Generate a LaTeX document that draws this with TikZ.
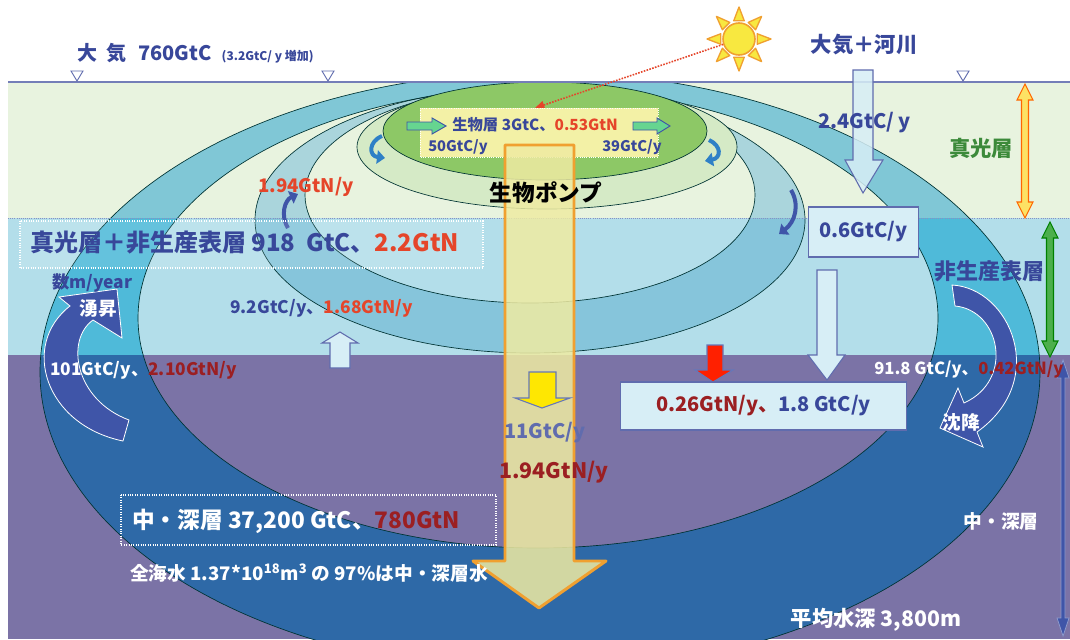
\documentclass[tikz,border=0pt]{standalone}
\usepackage{fontspec}
\setmainfont{Noto Sans CJK JP}
\usetikzlibrary{arrows.meta}

\definecolor{skygreen}{HTML}{E8F3DF}
\definecolor{surfblue}{HTML}{B3DEEA}
\definecolor{deepsea}{HTML}{7B73A6}
\definecolor{ringA}{HTML}{80C7D6}
\definecolor{ringB}{HTML}{4FBAD9}
\definecolor{ringC}{HTML}{2E69A7}
\definecolor{midA}{HTML}{AAD5DC}
\definecolor{midB}{HTML}{86C5DB}
\definecolor{paleleaf}{HTML}{D5EAC6}
\definecolor{leaf}{HTML}{8DC866}
\definecolor{bioyellow}{HTML}{F3F1A6}
\definecolor{inkblue}{HTML}{38479A}
\definecolor{inkred}{HTML}{E5452A}
\definecolor{inkdred}{HTML}{9B1F22}
\definecolor{inkgreen}{HTML}{3C8A3A}
\definecolor{flowblue}{HTML}{3F55A8}
\definecolor{curlblue}{HTML}{2E80C6}
\definecolor{pumpfill}{HTML}{EFEBA2}
\definecolor{pumpedge}{HTML}{F0A030}
\definecolor{sunyellow}{HTML}{F8E840}
\definecolor{boxblue}{HTML}{D7EEF6}

\newcommand\seaRingBig{(540,372) ellipse [x radius=500, y radius=300] (538,318) ellipse [x radius=400, y radius=230]}
\newcommand\seaRingMid{(530,220) ellipse [x radius=275, y radius=133] (530,195) ellipse [x radius=225, y radius=108]}
\newcommand\fsz[1]{\fontsize{#1}{#1}\selectfont}

\begin{document}
\begin{tikzpicture}[x=0.75pt,y=-0.75pt,
		every node/.style={inner sep=0pt,font=\bfseries},
		lbl/.style={text=inkblue},
		wlbl/.style={text=white},
		ringline/.style={draw=black!60!teal,line width=0.5pt},
		fatarrow/.style={draw=inkblue!80,line width=0.8pt,fill=boxblue},
		valbox/.style={draw=inkblue!80,line width=0.8pt,fill=boxblue},
		curl/.style={draw=flowblue,line width=3pt,-{Triangle[length=6pt,width=10pt]}},
		tri/.style={draw=inkblue!80,fill=white,line width=0.7pt}
		]
		\useasboundingbox (0,0) rectangle (1070,639);
		\fill[white] (0,0) rectangle (1070,639);
		
		% layers of the ocean
		\fill[skygreen] (8,82) rectangle (1070,218);
		\fill[surfblue] (8,218) rectangle (1070,355);
		\fill[deepsea] (8,355) rectangle (1070,639);
		
		% circulation rings, one colour per layer
		\begin{scope}
			\clip (8,82) rectangle (1070,218);
			\fill[ringA,even odd rule] \seaRingBig;
			\fill[midA,even odd rule] \seaRingMid;
		\end{scope}
		\begin{scope}
			\clip (8,218) rectangle (1070,355);
			\fill[ringB,even odd rule] \seaRingBig;
			\fill[midB,even odd rule] \seaRingMid;
		\end{scope}
		\begin{scope}
			\clip (8,355) rectangle (1070,639);
			\fill[ringC,even odd rule] \seaRingBig;
		\end{scope}
		\begin{scope}
			\clip (8,82) rectangle (1070,639);
			\draw[ringline] \seaRingBig;
			\draw[ringline] \seaRingMid;
			\draw[ringline,fill=paleleaf] (547,147) ellipse [x radius=190, y radius=62];
			\draw[ringline,fill=leaf] (545,131) ellipse [x radius=162, y radius=49];
		\end{scope}
		
		\draw[densely dotted,draw=inkblue!60,line width=0.6pt] (8,218) -- (1070,218);
		\draw[inkblue!70,line width=0.8pt] (8,82) -- (1070,82);
		\foreach \tx in {77,328,963}
		\draw[tri] (\tx-6,71) -- (\tx+6,71) -- (\tx,81) -- cycle;
		
		% sun and light
		\node[circle,draw=pumpedge,fill=sunyellow,line width=1.2pt,minimum size=24pt] (sun) at (739,39) {};
		\coordinate (sunlight) at (535,108);
		\draw[inkred,densely dotted,line width=1.2pt,-{Triangle[length=7pt,width=6pt]}] (sun) -- (sunlight);
		\foreach \a in {0,45,...,315}
		\draw[draw=pumpedge,fill=sunyellow,line width=1pt,line join=round] ([shift={(\a-16:19)}]sun.center) -- ([shift={(\a:32)}]sun.center) -- ([shift={(\a+16:19)}]sun.center) -- cycle;
		
		% biological layer
		\draw[densely dotted,draw=white,fill=bioyellow,line width=0.7pt] (420,108) rectangle (658,157);
		\draw[draw=flowblue,fill=green!45!teal!60,line width=0.7pt] (407,122) -- (432,122) -- (432,118) -- (446,126) -- (432,134) -- (432,130) -- (407,130) -- cycle;
		\draw[draw=flowblue,fill=green!45!teal!60,line width=0.7pt] (633,122) -- (657,122) -- (657,118) -- (670,126) -- (657,134) -- (657,130) -- (633,130) -- cycle;
		\draw[curl,draw=curlblue] (382,136) .. controls (368,142) and (369,156) .. (385,158);
		\draw[curl,draw=curlblue] (709,140) .. controls (722,146) and (721,158) .. (705,161);
		\draw[curl] (288,228) .. controls (280,215) and (285,200) .. (298,194);
		\draw[curl] (791,190) .. controls (800,205) and (795,222) .. (779,234);
		
		% up- and down-welling
		\draw[draw=white,line width=0.6pt,fill=flowblue] (123,441) .. controls (45,425) and (20,345) .. (70,306) -- (59,297) -- (117,289) -- (122,338) -- (93,320) .. controls (65,340) and (75,400) .. (129,420) -- cycle;
		\draw[draw=white,line width=0.6pt,fill=flowblue] (952,285) .. controls (1010,288) and (1050,380) .. (977,432) -- (983,447) -- (940,428) -- (958,388) -- (964,403) .. controls (1015,380) and (1000,310) .. (955,306) -- cycle;
		
		% flux arrows
		\draw[fatarrow,fill opacity=0.85] (853,70) -- (873,70) -- (873,160) -- (883,160) -- (863,193) -- (845,160) -- (853,160) -- cycle;
		\draw[fatarrow] (817,270) -- (837,270) -- (837,355) -- (845,355) -- (827,380) -- (808,355) -- (817,355) -- cycle;
		\draw[fatarrow] (330,368) -- (350,368) -- (350,343) -- (358,343) -- (340,332) -- (322,343) -- (330,343) -- cycle;
		\draw[draw=flowblue!80,fill=red!75!orange,line width=0.8pt] (707,345) -- (723,345) -- (723,370) -- (733,370) -- (713,382) -- (695,370) -- (707,370) -- cycle;
		
		% layer depths
		\draw[draw=orange!80!red,fill=yellow!70!orange!60,line width=0.8pt] (1025,84) -- (1033,100) -- (1028.5,100) -- (1028.5,202) -- (1033,202) -- (1025,218) -- (1017,202) -- (1021.5,202) -- (1021.5,100) -- (1017,100) -- cycle;
		\draw[draw=green!50!black,fill=green!55!black!70,line width=0.8pt] (1050,222) -- (1058,238) -- (1053.5,238) -- (1053.5,341) -- (1058,341) -- (1050,357) -- (1042,341) -- (1046.5,341) -- (1046.5,238) -- (1042,238) -- cycle;
		\draw[draw=flowblue!60,fill=flowblue,line width=0.6pt] (1063,360) -- (1069,378) -- (1065,378) -- (1065,618) -- (1069,618) -- (1063,636) -- (1057,618) -- (1061,618) -- (1061,378) -- (1057,378) -- cycle;
		
		% stock boxes
		\draw[white,densely dotted,line width=0.8pt,fill=white,fill opacity=0.12] (20,221) rectangle (483,268);
		\draw[white,densely dotted,line width=0.8pt] (121,495) rectangle (496,545);
		\node[valbox,minimum width=83pt,minimum height=37.5pt] (exportbox) at (863.5,232) {\fsz{15}\textcolor{inkblue}{0.6GtC/y}};
		\node[valbox,minimum width=215pt,minimum height=36pt] (fluxbox) at (763.5,406) {\fsz{15}\textcolor{inkdred}{0.26GtN/y、}\textcolor{inkblue}{1.8 GtC/y}};
		
		% biological pump
		\draw[draw=pumpedge,line width=2.2pt,fill=pumpfill,fill opacity=0.85,line join=round] (505,145) -- (574,145) -- (574,561) -- (606,561) -- (539,608) -- (473,561) -- (505,561) -- cycle;
		\draw[draw=flowblue!80,fill=yellow!90!orange,line width=0.8pt] (529,372) -- (556,372) -- (556,398) -- (570,398) -- (542,408) -- (515,398) -- (529,398) -- cycle;
		
		\node[lbl,anchor=west] (atmos) at (77,53) {\fsz{15}大\hspace{0.45em}気\hspace{0.6em}760GtC\hspace{0.5em}{\fsz{9}(3.2GtC/ y 増加)}};
		\node[lbl] (river) at (864,45) {\fsz{16}大気＋河川};
		\node[lbl,anchor=west] (riverC) at (818,123) {\fsz{15}2.4GtC/ y};
		\node[text=inkgreen] (euphotic) at (981,148) {\fsz{16}真光層};
		\node[lbl,anchor=west] (biomass) at (452,125) {\fsz{11.5}生物層 3GtC、\textcolor{inkred}{0.53GtN}};
		\node[lbl,anchor=west] (bioin) at (428,147) {\fsz{11}50GtC/y};
		\node[lbl,anchor=east] (bioout) at (662,147) {\fsz{11}39GtC/y};
		\node (pump) at (546,193) {\fsz{17}生物ポンプ};
		\node[text=inkred,anchor=west] (upN) at (258,187) {\fsz{14}1.94GtN/y};
		\node[lbl,anchor=west] (surface) at (30,243) {\fsz{18}真光層＋非生産表層 918\ \ GtC、\textcolor{inkred}{2.2GtN}};
		\node[lbl,anchor=west] (mixrate) at (52,283) {\fsz{13}数m/year};
		\node[wlbl] (upwell) at (98,308) {\fsz{14}湧昇};
		\node[lbl,anchor=west] (mixflux) at (230,308) {\fsz{13}9.2GtC/y、\textcolor{inkred}{1.68GtN/y}};
		\node[wlbl,anchor=west] (upflux) at (50,370) {\fsz{13}101GtC/y、\textcolor{inkdred}{2.10GtN/y}};
		\node[lbl] (nonprod) at (989,271) {\fsz{16.5}非生産表層};
		\node[wlbl,anchor=west] (downflux) at (874,370) {\fsz{12.5}91.8 GtC/y、\textcolor{inkdred}{0.42GtN/y}};
		\node[wlbl] (sink) at (961,422) {\fsz{14}沈降};
		\node[text=inkblue!80] (pumpC) at (545,433) {\fsz{15}11GtC/y};
		\node[text=inkdred] (pumpN) at (554,472) {\fsz{16}1.94GtN/y};
		\node[wlbl,anchor=west] (deep) at (132,521) {\fsz{17}中・深層 37,200 GtC、\textcolor{inkdred}{780GtN}};
		\node[wlbl,anchor=west] (volume) at (130,573) {\fsz{14}全海水 1.37*10\textsuperscript{18}m\textsuperscript{3} の 97\%は中・深層水};
		\node[wlbl] (deepR) at (1001,521) {\fsz{14}中・深層};
		\node[wlbl] (depth) at (876,620) {\fsz{16}平均水深 3,800m};
	\end{tikzpicture}
\end{document}
